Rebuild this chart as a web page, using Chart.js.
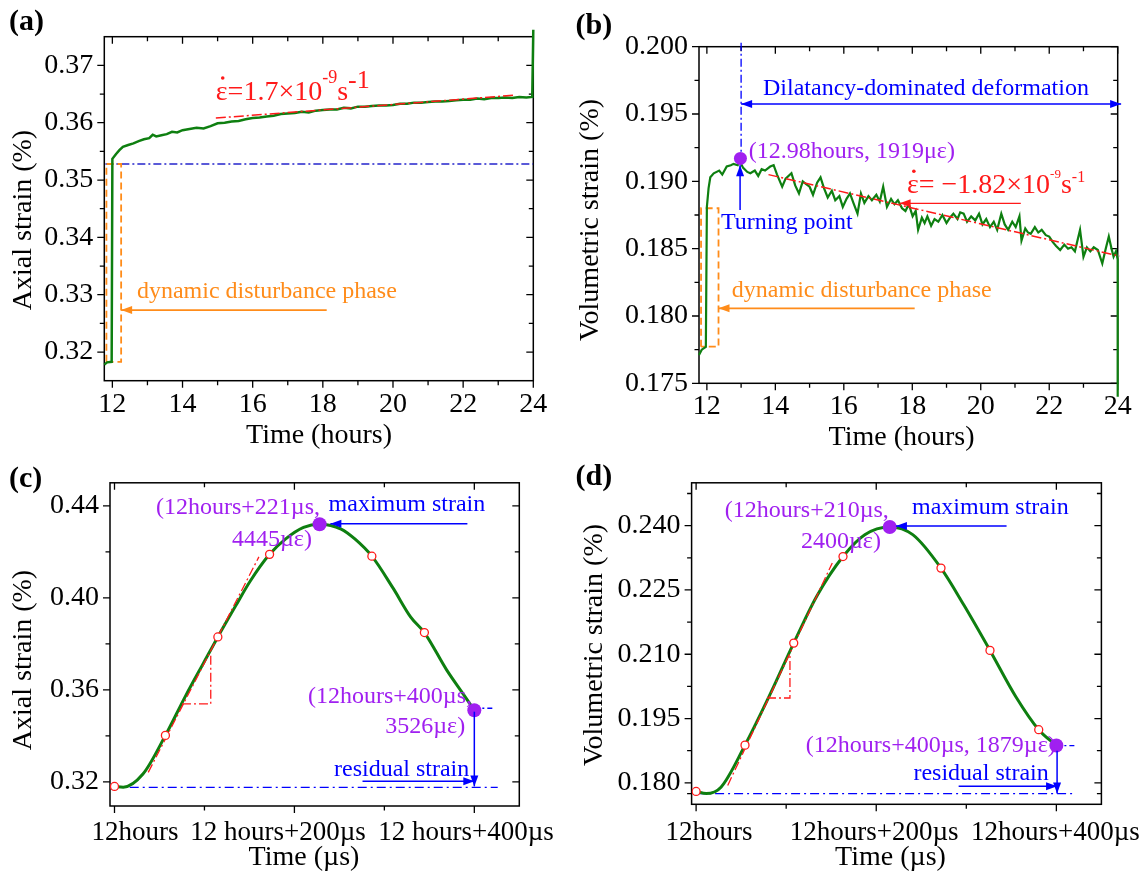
<!DOCTYPE html>
<html>
<head>
<meta charset="utf-8">
<script src="https://cdn.jsdelivr.net/npm/chart.js@4.4.1/dist/chart.umd.min.js"></script>
<style>
  html, body { margin: 0; padding: 0; background: #fff; }
  #page { position: relative; width: 1148px; height: 874px; overflow: hidden; }
  .panel { position: absolute; }
</style>
</head>
<body>
<div id="page">
  <div class="panel" style="left:0;top:0"><canvas id="ca" width="574" height="455"></canvas></div>
  <div class="panel" style="left:574px;top:0"><canvas id="cb" width="574" height="455"></canvas></div>
  <div class="panel" style="left:0;top:455px"><canvas id="cc" width="574" height="419"></canvas></div>
  <div class="panel" style="left:574px;top:455px"><canvas id="cd" width="574" height="419"></canvas></div>
</div>
<script>
// ---------- data ----------

// (a) axial strain, long time scale
var aTime = [11.77, 11.85, 11.98, 12.0, 12.1, 12.2, 12.3, 12.45, 12.6, 12.75, 12.9, 13.05, 13.15, 13.25, 13.4, 13.55,
  13.7, 13.85, 14.0, 14.2, 14.4, 14.6, 14.8, 15.0, 15.2, 15.4, 15.6, 15.8, 16.0, 16.2, 16.4, 16.6, 16.8, 17.0,
  17.2, 17.4, 17.6, 17.8, 18.0, 18.2, 18.4, 18.6, 18.8, 19.0, 19.2, 19.4, 19.6, 19.8, 20.0, 20.2, 20.4, 20.6,
  20.8, 21.0, 21.2, 21.4, 21.6, 21.8, 22.0, 22.2, 22.4, 22.6, 22.8, 23.0, 23.2, 23.4, 23.6, 23.8, 23.97, 24.0];
var aStrain = [0.3178, 0.3182, 0.3183, 0.3537, 0.3545, 0.3552, 0.3558, 0.3561, 0.3564, 0.3568, 0.3571, 0.3573, 0.3579, 0.3576, 0.3578, 0.3580,
  0.3584, 0.3583, 0.3587, 0.3589, 0.3591, 0.3590, 0.3594, 0.3599, 0.3600, 0.3602, 0.3603, 0.3606, 0.3608, 0.3609, 0.3611, 0.3612, 0.3615, 0.3616,
  0.3617, 0.3619, 0.3618, 0.3621, 0.3622, 0.3623, 0.3623, 0.3626, 0.3625, 0.3628, 0.3628, 0.3629, 0.3630, 0.3630, 0.3631, 0.3633, 0.3633, 0.3635,
  0.3635, 0.3636, 0.3637, 0.3637, 0.3638, 0.3639, 0.3640, 0.3640, 0.3642, 0.3641, 0.3643, 0.3643, 0.3644, 0.3643, 0.3645, 0.3644, 0.3645, 0.3762];
var aFitTime = [14.95, 23.46];
var aFitStrain = [0.3608, 0.3648];
var aLevelTime = [11.8, 24];
var aLevelStrain = [0.3528, 0.3528];
var aPhaseTime = [11.83, 12.25];
var aPhaseStrain = [0.3183, 0.3528];
var aXTicks = [12, 14, 16, 18, 20, 22, 24];
var aXLabels = ['12', '14', '16', '18', '20', '22', '24'];
var aYTicks = [0.32, 0.33, 0.34, 0.35, 0.36, 0.37];
var aYLabels = ['0.32', '0.33', '0.34', '0.35', '0.36', '0.37'];

// (b) volumetric strain, long time scale
var bTime = [11.77, 11.85, 11.97, 12.0, 12.05, 12.1, 12.2, 12.36, 12.45, 12.58, 12.7, 12.78, 12.9, 12.96, 13.06, 13.18,
  13.27, 13.4, 13.5, 13.6, 13.7, 13.85, 13.95, 14.05, 14.2, 14.3, 14.47, 14.58, 14.69, 14.8, 14.9, 15.0, 15.1, 15.22,
  15.32, 15.42, 15.53, 15.65, 15.75, 15.87, 15.97, 16.08, 16.18, 16.28, 16.4, 16.5, 16.6, 16.72, 16.82, 16.95, 17.05,
  17.15, 17.26, 17.38, 17.48, 17.58, 17.7, 17.8, 17.9, 18.01, 18.1, 18.17, 18.28, 18.36, 18.44, 18.55, 18.65, 18.76,
  18.88, 19.0, 19.1, 19.2, 19.32, 19.4, 19.5, 19.6, 19.72, 19.84, 19.95, 20.05, 20.16, 20.27, 20.38, 20.48, 20.6,
  20.7, 20.8, 20.92, 21.02, 21.13, 21.19, 21.3, 21.38, 21.46, 21.58, 21.68, 21.78, 21.9, 22.0, 22.1, 22.2, 22.32,
  22.44, 22.55, 22.65, 22.75, 22.9, 23.0, 23.1, 23.2, 23.3, 23.42, 23.55, 23.65, 23.74, 23.82, 23.88, 23.95, 24.0, 24.0];
var bStrain = [0.1771, 0.1775, 0.1777, 0.1881, 0.1895, 0.1903, 0.1906, 0.1908, 0.1905, 0.1911, 0.1912, 0.1913, 0.1912, 0.1915, 0.1910, 0.1907,
  0.1906, 0.1908, 0.1904, 0.1909, 0.1908, 0.1911, 0.1912, 0.1905, 0.1896, 0.1902, 0.1906, 0.1897, 0.1891, 0.1900, 0.1898, 0.1896, 0.1890, 0.1899,
  0.1903, 0.1895, 0.1888, 0.1893, 0.1886, 0.1889, 0.1881, 0.1887, 0.1891, 0.1884, 0.1876, 0.1891, 0.1884, 0.1889, 0.1886, 0.1890, 0.1885,
  0.1896, 0.1881, 0.1887, 0.1883, 0.1886, 0.1880, 0.1878, 0.1883, 0.1874, 0.1878, 0.1864, 0.1873, 0.1869, 0.1874, 0.1867, 0.1872, 0.1870,
  0.1875, 0.1869, 0.1873, 0.1876, 0.1872, 0.1877, 0.1876, 0.1870, 0.1874, 0.1871, 0.1876, 0.1868, 0.1872, 0.1866, 0.1870, 0.1864, 0.1876,
  0.1868, 0.1864, 0.1870, 0.1866, 0.1874, 0.1856, 0.1865, 0.1862, 0.1861, 0.1866, 0.1862, 0.1864, 0.1860, 0.1859, 0.1855, 0.1852, 0.1849,
  0.1853, 0.1850, 0.1851, 0.1848, 0.1864, 0.1844, 0.1851, 0.1848, 0.1851, 0.1849, 0.1839, 0.1850, 0.1859, 0.1850, 0.1844, 0.1848, 0.1842, 0.1740];
var bFitTime = [13.8, 24.05];
var bFitStrain = [0.1905, 0.18445];
var bTurnTime = [12.98];
var bTurnStrain = [0.1917];
var bTurnLineStrain = [0.2003, 0.1920];
var bPhaseTime = [11.83, 12.34];
var bPhaseStrain = [0.17772, 0.1880];
var bXTicks = [12, 14, 16, 18, 20, 22, 24];
var bXLabels = ['12', '14', '16', '18', '20', '22', '24'];
var bYTicks = [0.175, 0.180, 0.185, 0.190, 0.195, 0.200];
var bYLabels = ['0.175', '0.180', '0.185', '0.190', '0.195', '0.200'];

// (c) axial strain during the disturbance (µs)
var cTime = [0, 9.7, 31.6, 56.6, 79.2, 99.0, 114.9, 134.7, 150.6, 172.4, 190.3, 210.2, 228, 251.9, 267.2, 286.1, 309.5, 329.3, 344.5, 369, 388.9, 400];
var cStrain = [0.3180, 0.3177, 0.3234, 0.3402, 0.3575, 0.3717, 0.3830, 0.3965, 0.4071, 0.4189, 0.4256, 0.4306, 0.4320, 0.4299, 0.4256, 0.4181, 0.4043, 0.3916, 0.3849, 0.3688, 0.3575, 0.3511];
var cMarkTime = [0, 56.6, 114.9, 172.4, 286.1, 344.5];
var cMarkStrain = [0.3180, 0.3402, 0.3830, 0.4189, 0.4181, 0.3849];
var cKeyTime = [228, 400];
var cKeyStrain = [0.4320, 0.3511];
var cTanTime = [37.5, 160.5];
var cTanStrain = [0.3241, 0.4178];
var cStepTime = [75, 107, 107];
var cStepStrain = [0.3539, 0.3539, 0.3759];
var cResidTime = [-4.2, 426];
var cResidStrain = [0.3176, 0.3176];
var cEndTime = [400, 422];
var cEndStrain = [0.3520, 0.3520];
var cXTicks = [0, 200, 400];
var cXLabels = ['12hours', '12 hours+200\u00b5s', '12 hours+400\u00b5s'];
var cYTicks = [0.32, 0.36, 0.40, 0.44];
var cYLabels = ['0.32', '0.36', '0.40', '0.44'];

// (d) volumetric strain during the disturbance (µs)
var dTime = [0, 11.3, 27.6, 54.3, 80.9, 108.4, 134.1, 163.1, 187.3, 215, 240.5, 271.9, 297.8, 326.3, 355, 380.4, 400];
var dStrain = [0.1780, 0.1775, 0.1790, 0.1888, 0.2001, 0.2126, 0.2236, 0.2328, 0.2379, 0.2397, 0.2379, 0.2301, 0.2213, 0.2109, 0.2001, 0.1924, 0.1887];
var dMarkTime = [0, 54.3, 108.4, 163.1, 271.9, 326.3, 380.4];
var dMarkStrain = [0.1780, 0.1888, 0.2126, 0.2328, 0.2301, 0.2109, 0.1924];
var dKeyTime = [215, 400];
var dKeyStrain = [0.2397, 0.1887];
var dTanTime = [35.1, 151.2];
var dTanStrain = [0.1794, 0.2313];
var dStepTime = [78.7, 104.2, 104.2];
var dStepStrain = [0.1998, 0.1998, 0.2100];
var dResidTime = [0, 419.6];
var dResidStrain = [0.1775, 0.1775];
var dEndTime = [400, 422];
var dEndStrain = [0.1887, 0.1887];
var dXTicks = [0, 200, 400];
var dXLabels = ['12hours', '12hours+200\u00b5s', '12hours+400\u00b5s'];
var dYTicks = [0.180, 0.195, 0.210, 0.225, 0.240];
var dYLabels = ['0.180', '0.195', '0.210', '0.225', '0.240'];

// ---------- styles ----------
var SERIF = '"Liberation Serif", "Times New Roman", serif';
var GREEN = '#0e7f10', RED = '#ff1a1a', BLUE = '#0000ff', ORANGE = '#ff8c1a', PURPLE = '#a020f0';

function pts(xs, ys) {
  return xs.map(function (x, i) { return { x: x, y: ys[i] }; });
}
function box(xs, ys) {
  return pts([xs[0], xs[0], xs[1], xs[1], xs[0]], [ys[0], ys[1], ys[1], ys[0], ys[0]]);
}
function line(data, color, width, dash, extra) {
  var ds = { data: data, showLine: true, borderColor: color, borderWidth: width, borderDash: dash || [], pointRadius: 0, fill: false };
  return Object.assign(ds, extra || {});
}
function dots(data, r, fillCol, edge) {
  return { data: data, showLine: false, pointRadius: r, pointBackgroundColor: fillCol, pointBorderColor: edge, pointBorderWidth: edge === fillCol ? 0 : 1.3 };
}

// decorations per canvas: frame, mirrored ticks, titles, notes
var decos = {
  ca: {
    xMajor: aXTicks, xMinor: [13, 15, 17, 19, 21, 23],
    yMajor: aYTicks, yMinor: [0.325, 0.335, 0.345, 0.355, 0.365],
    label: ['(a)', 9, 30], xTitle: ['Time (hours)', 319, 443], yTitle: ['Axial strain (%)', 31, 220],
    notes: [
      { k: 'arrow', from: [18.11, 0.32732], to: [12.25, 0.32732], c: ORANGE, w: 1.8 },
      { k: 'text', at: [12.7, 0.32942], t: 'dynamic disturbance phase', c: ORANGE, s: 24 },
      { k: 'rate', at: [14.95, 0.36396], c: RED, parts: [['=1.7\u00d710', 28, 0], ['-9', 18, 17], ['s', 28, 0], ['-1', 26, 12]] }
    ]
  },
  cb: {
    xMajor: bXTicks, xMinor: [13, 15, 17, 19, 21, 23],
    yMajor: bYTicks, yMinor: [0.1775, 0.1825, 0.1875, 0.1925, 0.1975],
    label: ['(b)', 1.5, 34], xTitle: ['Time (hours)', 327.6, 445], yTitle: ['Volumetric strain (%)', 24, 220],
    notes: [
      { k: 'text', at: [13.64, 0.19641], t: 'Dilatancy-dominated deformation', c: BLUE, s: 24 },
      { k: 'arrow', from: [13.0, 0.19574], to: [24.1, 0.19574], c: BLUE, w: 1.5, both: true },
      { k: 'text', at: [13.22, 0.19173], t: '(12.98hours, 1919\u03bc\u03b5)', c: PURPLE, s: 24 },
      { k: 'arrow', from: [12.97, 0.18787], to: [12.97, 0.1912], c: BLUE, w: 1.5 },
      { k: 'text', at: [12.41, 0.18646], t: 'Turning point', c: BLUE, s: 24 },
      { k: 'rate', at: [17.845, 0.18911], c: RED, parts: [['= \u22121.82\u00d710', 28, 0], ['-9', 13, 15], ['s', 28, 0], ['-1', 16, 11]] },
      { k: 'arrow', from: [21.17, 0.18837], to: [17.63, 0.18837], c: RED, w: 1.2 },
      { k: 'text', at: [12.73, 0.18141], t: 'dynamic disturbance phase', c: ORANGE, s: 24 },
      { k: 'arrow', from: [18.07, 0.18057], to: [12.34, 0.18057], c: ORANGE, w: 1.8 }
    ]
  },
  cc: {
    xMajor: cXTicks, xMinor: [100, 300],
    yMajor: cYTicks, yMinor: [0.34, 0.38, 0.42],
    label: ['(c)', 9, 32], xTitle: ['Time (\u00b5s)', 304, 410], yTitle: ['Axial strain (%)', 31, 205],
    xLabels: cXLabels, xShift: [20.5, -16.4, -8.3], xBase: 385,
    notes: [
      { k: 'text', at: [46.1, 0.43638], t: '(12hours+221\u00b5s,', c: PURPLE, s: 24 },
      { k: 'text', at: [130.6, 0.42233], t: '4445\u00b5\u03b5)', c: PURPLE, s: 24 },
      { k: 'text', at: [238, 0.43765], t: 'maximum strain', c: BLUE, s: 24 },
      { k: 'arrow', from: [392.3, 0.43225], to: [240, 0.43225], c: BLUE, w: 1.5 },
      { k: 'text', at: [215.1, 0.35421], t: '(12hours+400\u00b5s,', c: PURPLE, s: 24 },
      { k: 'text', at: [301, 0.34144], t: '3526\u00b5\u03b5)', c: PURPLE, s: 24 },
      { k: 'arrow', from: [400, 0.3505], to: [400, 0.31803], c: BLUE, w: 1.5 },
      { k: 'text', at: [244, 0.32271], t: 'residual strain', c: BLUE, s: 24 },
      { k: 'arrow', from: [275.7, 0.32029], to: [400, 0.32029], c: BLUE, w: 1.5 }
    ]
  },
  cd: {
    xMajor: dXTicks, xMinor: [100, 300],
    yMajor: dYTicks, yMinor: [0.1775, 0.1875, 0.2025, 0.2175, 0.2325, 0.2475],
    label: ['(d)', 1.5, 30], xTitle: ['Time (\u00b5s)', 316.5, 410], yTitle: ['Volumetric strain (%)', 28, 190],
    xLabels: dXLabels, xShift: [13, -2, -1], xBase: 385,
    notes: [
      { k: 'text', at: [31.9, 0.2421], t: '(12hours+210\u00b5s,', c: PURPLE, s: 24 },
      { k: 'text', at: [116.5, 0.2347], t: '2400\u00b5\u03b5)', c: PURPLE, s: 24 },
      { k: 'text', at: [239.7, 0.2428], t: 'maximum strain', c: BLUE, s: 24 },
      { k: 'arrow', from: [344.7, 0.2399], to: [221.9, 0.2399], c: BLUE, w: 1.5 },
      { k: 'text', at: [121.8, 0.1871], t: '(12hours+400\u00b5s, 1879\u00b5\u03b5)', c: PURPLE, s: 24 },
      { k: 'arrow', from: [400.8, 0.1875], to: [400.8, 0.1775], c: BLUE, w: 1.5 },
      { k: 'text', at: [241.3, 0.1807], t: 'residual strain', c: BLUE, s: 24 },
      { k: 'arrow', from: [291.5, 0.1792], to: [400.8, 0.1792], c: BLUE, w: 1.5 }
    ]
  }
};

function head(ctx, x1, y1, x2, y2) {
  var ang = Math.atan2(y2 - y1, x2 - x1), len = 11, half = 4;
  var bx = x2 - len * Math.cos(ang), by = y2 - len * Math.sin(ang);
  ctx.beginPath();
  ctx.moveTo(x2, y2);
  ctx.lineTo(bx + half * Math.sin(ang), by - half * Math.cos(ang));
  ctx.lineTo(bx - half * Math.sin(ang), by + half * Math.cos(ang));
  ctx.closePath();
  ctx.fill();
}

var deco = {
  id: 'deco',
  beforeDatasetsDraw: function (chart) {
    var d = decos[chart.canvas.id], ctx = chart.ctx, a = chart.chartArea;
    var xs = chart.scales.x, ys = chart.scales.y;
    ctx.save();
    ctx.strokeStyle = '#000';
    ctx.lineWidth = 1.5;
    ctx.strokeRect(a.left, a.top, a.right - a.left, a.bottom - a.top);
    ctx.lineWidth = 1.3;
    function tickX(v, len) {
      var p = xs.getPixelForValue(v);
      ctx.beginPath();
      ctx.moveTo(p, a.bottom); ctx.lineTo(p, a.bottom + len);
      ctx.moveTo(p, a.top); ctx.lineTo(p, a.top + len);
      ctx.stroke();
    }
    function tickY(v, len) {
      var p = ys.getPixelForValue(v);
      ctx.beginPath();
      ctx.moveTo(a.left, p); ctx.lineTo(a.left - len, p);
      ctx.moveTo(a.right, p); ctx.lineTo(a.right - len, p);
      ctx.stroke();
    }
    d.xMajor.forEach(function (v) { tickX(v, 7); });
    d.xMinor.forEach(function (v) { tickX(v, 4.5); });
    d.yMajor.forEach(function (v) { tickY(v, 7); });
    d.yMinor.forEach(function (v) { tickY(v, 4.5); });
    ctx.restore();
  },
  afterDatasetsDraw: function (chart) {
    var d = decos[chart.canvas.id], ctx = chart.ctx;
    var xs = chart.scales.x, ys = chart.scales.y;
    function P(v) { return [xs.getPixelForValue(v[0]), ys.getPixelForValue(v[1])]; }
    ctx.save();
    ctx.textBaseline = 'alphabetic';
    d.notes.forEach(function (n) {
      if (n.k === 'arrow') {
        var p = P(n.from), q = P(n.to);
        ctx.strokeStyle = n.c; ctx.fillStyle = n.c; ctx.lineWidth = n.w;
        ctx.setLineDash([]);
        ctx.beginPath(); ctx.moveTo(p[0], p[1]); ctx.lineTo(q[0], q[1]); ctx.stroke();
        head(ctx, p[0], p[1], q[0], q[1]);
        if (n.both) head(ctx, q[0], q[1], p[0], p[1]);
      } else if (n.k === 'text') {
        var t = P(n.at);
        ctx.fillStyle = n.c;
        ctx.textAlign = 'left';
        ctx.font = n.s + 'px ' + SERIF;
        ctx.fillText(n.t, t[0], t[1]);
      } else if (n.k === 'rate') {
        var r = P(n.at), x = r[0];
        ctx.fillStyle = n.c;
        ctx.textAlign = 'left';
        ctx.font = '28px ' + SERIF;
        ctx.fillText('\u03b5', x, r[1]);
        var ew = ctx.measureText('\u03b5').width;
        ctx.beginPath(); ctx.arc(x + ew / 2 + 1, r[1] - 22, 1.8, 0, Math.PI * 2); ctx.fill();
        x += ew;
        n.parts.forEach(function (pt) {
          ctx.font = pt[1] + 'px ' + SERIF;
          ctx.fillText(pt[0], x, r[1] - pt[2]);
          x += ctx.measureText(pt[0]).width;
        });
      }
    });
    // tick labels for the µs panels
    if (d.xLabels) {
      ctx.fillStyle = '#000';
      ctx.textAlign = 'center';
      ctx.font = '27px ' + SERIF;
      d.xMajor.forEach(function (v, i) {
        ctx.fillText(d.xLabels[i], xs.getPixelForValue(v) + d.xShift[i], d.xBase);
      });
    }
    // axis titles and panel label
    ctx.fillStyle = '#000';
    ctx.font = '28px ' + SERIF;
    ctx.textAlign = 'center';
    ctx.fillText(d.xTitle[0], d.xTitle[1], d.xTitle[2]);
    ctx.save();
    ctx.translate(d.yTitle[1], d.yTitle[2]);
    ctx.rotate(-Math.PI / 2);
    ctx.fillText(d.yTitle[0], 0, 0);
    ctx.restore();
    ctx.textAlign = 'left';
    ctx.font = 'bold 30px ' + SERIF;
    ctx.fillText(d.label[0], d.label[1], d.label[2]);
    ctx.restore();
  }
};

function makeChart(id, area, xr, yr, xTicks, xLabels, yTicks, yLabels, showX, datasets) {
  var cv = document.getElementById(id);
  return new Chart(cv, {
    type: 'scatter',
    data: { datasets: datasets },
    options: {
      responsive: false,
      animation: false,
      devicePixelRatio: 1,
      layout: { padding: { left: 0, top: area[1], right: cv.width - area[2], bottom: 0 } },
      plugins: { legend: { display: false }, tooltip: { enabled: false } },
      scales: {
        x: {
          type: 'linear', min: xr[0], max: xr[1],
          afterBuildTicks: function (s) { s.ticks = xTicks.map(function (v) { return { value: v }; }); },
          afterFit: function (s) { s.height = cv.height - area[3]; },
          ticks: {
            display: showX, autoSkip: false, maxRotation: 0, padding: 7, color: '#000',
            font: { family: SERIF, size: 28 },
            callback: function (v, i) { return xLabels[i]; }
          },
          grid: { display: false, drawTicks: false },
          border: { display: false }
        },
        y: {
          type: 'linear', min: yr[0], max: yr[1],
          afterBuildTicks: function (s) { s.ticks = yTicks.map(function (v) { return { value: v }; }); },
          afterFit: function (s) { s.width = area[0]; },
          ticks: {
            autoSkip: false, padding: 11, color: '#000',
            font: { family: SERIF, size: 28 },
            callback: function (v, i) { return yLabels[i]; }
          },
          grid: { display: false, drawTicks: false },
          border: { display: false }
        }
      }
    },
    plugins: [deco]
  });
}

makeChart('ca', [104.3, 36.7, 533.3, 380.7], [11.77, 24], [0.315, 0.375], aXTicks, aXLabels, aYTicks, aYLabels, true, [
  line(pts(aFitTime, aFitStrain), RED, 1.5, [10, 3, 2, 3]),
  line(pts(aTime, aStrain), GREEN, 2.5, [], { clip: false }),
  line(box(aPhaseTime, aPhaseStrain), ORANGE, 1.8, [7, 4]),
  line(pts(aLevelTime, aLevelStrain), '#2424cc', 1.3, [8, 3, 2, 3])
]);

makeChart('cb', [125, 46.7, 543.7, 383.3], [11.77, 24], [0.175, 0.200], bXTicks, bXLabels, bYTicks, bYLabels, true, [
  dots(pts(bTurnTime, bTurnStrain), 6.5, PURPLE, PURPLE),
  line(pts(bFitTime, bFitStrain), RED, 1.5, [10, 3, 2, 3], { clip: false }),
  line(pts(bTime, bStrain), GREEN, 2.2, [], { clip: false }),
  line(box(bPhaseTime, bPhaseStrain), ORANGE, 1.8, [7, 4]),
  line(pts([13.0, 13.0], bTurnLineStrain), BLUE, 1.3, [8, 3, 2, 3], { clip: false })
]);

makeChart('cc', [110, 21, 519.3, 351], [-5, 450], [0.3095, 0.45], cXTicks, cXLabels, cYTicks, cYLabels, false, [
  dots(pts(cKeyTime, cKeyStrain), 7, PURPLE, PURPLE),
  dots(pts(cMarkTime, cMarkStrain), 4, '#fff', RED),
  line(pts(cTanTime, cTanStrain), RED, 1.3, [9, 3, 2, 3]),
  line(pts(cStepTime, cStepStrain), RED, 1.3, [9, 3, 2, 3]),
  line(pts(cTime, cStrain), GREEN, 3, [], { cubicInterpolationMode: 'monotone' }),
  line(pts(cResidTime, cResidStrain), BLUE, 1.3, [9, 4, 2, 4]),
  line(pts(cEndTime, cEndStrain), BLUE, 1.3, [5, 3, 2, 3])
]);

makeChart('cd', [117.6, 18.3, 527.4, 349.3], [-5, 450], [0.175, 0.25], dXTicks, dXLabels, dYTicks, dYLabels, false, [
  dots(pts(dKeyTime, dKeyStrain), 7, PURPLE, PURPLE),
  dots(pts(dMarkTime, dMarkStrain), 4, '#fff', RED),
  line(pts(dTanTime, dTanStrain), RED, 1.3, [9, 3, 2, 3]),
  line(pts(dStepTime, dStepStrain), RED, 1.3, [9, 3, 2, 3]),
  line(pts(dTime, dStrain), GREEN, 3, [], { cubicInterpolationMode: 'monotone' }),
  line(pts(dResidTime, dResidStrain), BLUE, 1.3, [9, 4, 2, 4]),
  line(pts(dEndTime, dEndStrain), BLUE, 1.3, [5, 3, 2, 3])
]);
</script>
</body>
</html>
